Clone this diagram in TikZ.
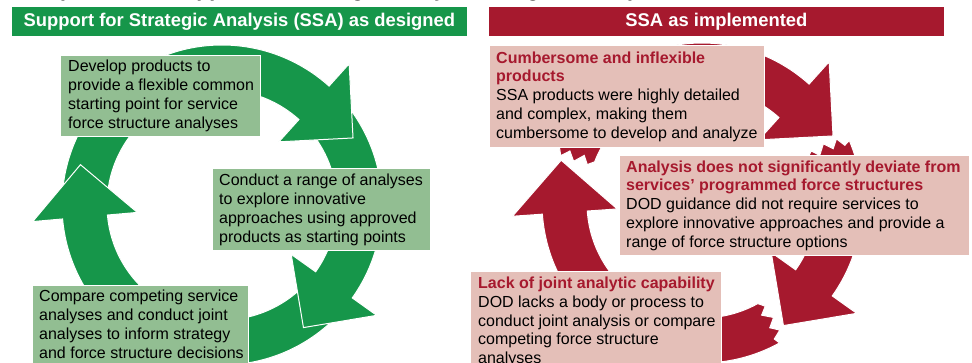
\documentclass[tikz,border=0pt]{standalone}
\usepackage{fontspec}
\setmainfont{Liberation Sans}
\usetikzlibrary{calc}
\definecolor{gdark}{HTML}{16964A}
\definecolor{glight}{HTML}{92BE92}
\definecolor{rdark}{HTML}{A6192E}
\definecolor{rlight}{HTML}{E4BFB8}
% circular block arrow: #1 centre, #2 tail angle, #3 head base angle, #4 colour
\newcommand{\solidarrow}[4]{%
  \path[fill=#4, draw=white, line width=1pt]
    ($(#1)+(#2:160pt)$) arc[start angle=#2, end angle=#3, radius=160pt]
    -- ($(#1)+(#3:190pt)$)
    -- ($(#1)+(#3:137.5pt)+(#3-90:52.5pt)$)
    -- ($(#1)+(#3:85pt)$)
    -- ($(#1)+(#3:115pt)$)
    arc[start angle=#3, end angle=#2, radius=115pt]
    -- cycle;}
% same, with a torn tail
\newcommand{\brokenarrow}[4]{%
  \path[fill=#4, draw=white, line width=1pt]
    ($(#1)+(#2:160pt)$) arc[start angle=#2, end angle=#3, radius=160pt]
    -- ($(#1)+(#3:190pt)$)
    -- ($(#1)+(#3:137.5pt)+(#3-90:52.5pt)$)
    -- ($(#1)+(#3:85pt)$)
    -- ($(#1)+(#3:115pt)$)
    arc[start angle=#3, end angle=#2, radius=115pt]
    -- ($(#1)+(#2+2.5:121pt)$) -- ($(#1)+(#2-1:127pt)$)
    -- ($(#1)+(#2+3:135pt)$) -- ($(#1)+(#2-0.5:142pt)$)
    -- ($(#1)+(#2+2.5:149pt)$) -- ($(#1)+(#2-1:154pt)$)
    -- cycle;}
\tikzset{
  gbox/.style={fill=glight, draw=white, line width=1pt, inner sep=0, anchor=north west},
  rbox/.style={fill=rlight, draw=white, line width=1pt, inner sep=0, anchor=north west},
  btxt/.style={inner sep=0, align=left, anchor=west, text=black, font=\fontsize{16}{19}\selectfont},
  rtxt/.style={inner sep=0, align=left, anchor=west, text=black, font=\fontsize{16}{18.7}\selectfont},
  banner/.style={inner sep=0, anchor=north west, minimum height=30pt, minimum width=456pt,
    draw=white, line width=0.8pt, text=white, font=\bfseries\fontsize{18.4}{22}\selectfont},
}
\newcommand{\rhead}[1]{\textcolor{rdark}{\bfseries #1}}
\begin{document}
\begin{tikzpicture}[x=1pt, y=1pt]
\useasboundingbox (0,0) rectangle (972,-362);
\clip (0,0) rectangle (972,-362);

% clipped figure title
\node[anchor=base west, inner sep=0, font=\bfseries\fontsize{21.3}{25}\selectfont] (title)
  at (12.7,4) {Comparison of Support for Strategic Analysis Design and Implementation};

% banners
\node[banner, fill=gdark] (gban) at (11,-6) {Support for Strategic Analysis (SSA) as designed};
\node[banner, fill=rdark] (rban) at (488,-6) {SSA as implemented};

% green cycle
\coordinate (gc) at (222,-205);
\solidarrow{gc}{178}{48}{gdark}
\solidarrow{gc}{-42.5}{-175}{gdark}
\solidarrow{gc}{41}{-35.5}{gdark}
\begin{scope}
  \clip (gc) -- ($(gc)+(16:225pt)$) arc[start angle=16, end angle=54, radius=225pt] -- cycle;
  \solidarrow{gc}{178}{48}{gdark}
\end{scope}

% red cycle
\coordinate (rc) at (702,-203);
\brokenarrow{rc}{159}{48}{rdark}
\brokenarrow{rc}{23}{-35.5}{rdark}
\brokenarrow{rc}{-61}{-176}{rdark}

% green boxes
\node[gbox, minimum width=200pt, minimum height=81pt] (g1) at (60,-55) {};
\node[btxt] (g1t) at ([xshift=8pt]g1.west) {Develop products to\\provide a flexible common\\starting point for service\\force structure analyses};
\node[gbox, minimum width=218pt, minimum height=82pt] (g2) at (212,-168) {};
\node[btxt] (g2t) at ([xshift=7pt]g2.west) {Conduct a range of analyses\\to explore innovative\\approaches using approved\\products as starting points};
\node[gbox, minimum width=216pt, minimum height=82pt] (g3) at (32,-285) {};
\node[btxt] (g3t) at ([xshift=7pt, yshift=2pt]g3.west) {Compare competing service\\analyses and conduct joint\\analyses to inform strategy\\and force structure decisions};

% red boxes
\node[rbox, minimum width=275pt, minimum height=102pt] (rA) at (489,-45) {};
\node[rtxt] (rAt) at ([xshift=7pt]rA.west) {\rhead{Cumbersome and inflexible}\\\rhead{products}\\SSA products were highly detailed\\and complex, making them\\cumbersome to develop and analyze};
\node[rbox, minimum width=350pt, minimum height=100pt] (rB) at (619,-155) {};
\node[rtxt] (rBt) at ([xshift=7pt]rB.west) {\rhead{Analysis does not significantly deviate from}\\\rhead{services’ programmed force structures}\\DOD guidance did not require services to\\explore innovative approaches and provide a\\range of force structure options};
\node[rbox, minimum width=251pt, minimum height=101pt] (rC) at (470,-271) {};
\node[rtxt] (rCt) at ([xshift=8pt]rC.west) {\rhead{Lack of joint analytic capability}\\DOD lacks a body or process to\\conduct joint analysis or compare\\competing force structure\\analyses};
\end{tikzpicture}
\end{document}
